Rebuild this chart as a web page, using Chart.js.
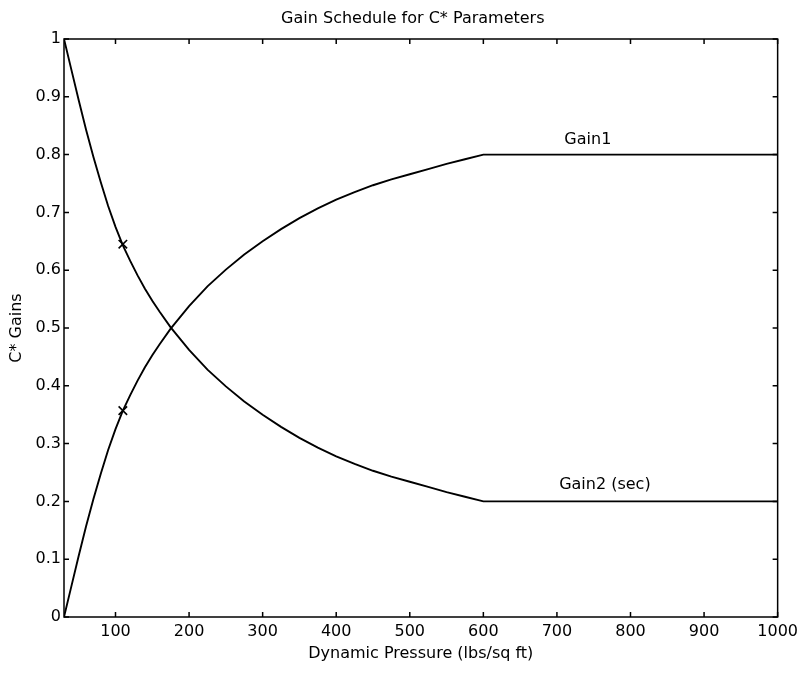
<!DOCTYPE html>
<html>
<head>
<meta charset="utf-8">
<script src="https://cdn.jsdelivr.net/npm/chart.js@4"></script>
<style>
  html, body { margin: 0; padding: 0; background: #fff; }
  #wrap { width: 803px; height: 673px; }
</style>
</head>
<body>
<div id="wrap"><canvas id="c" width="803" height="673"></canvas></div>
<script>
// ---- data ----
const pressure = [30, 40, 50, 60, 70, 80, 90, 100, 110, 120, 130, 140, 150, 160, 175, 200, 225, 250, 275, 300, 325, 350, 375, 400, 425, 450, 475, 500, 525, 550, 575, 600, 1000];
const gain1    = [0.000, 0.053, 0.106, 0.157, 0.204, 0.248, 0.289, 0.325, 0.357, 0.384, 0.409, 0.432, 0.453, 0.472, 0.499, 0.538, 0.572, 0.601, 0.627, 0.650, 0.671, 0.690, 0.707, 0.722, 0.735, 0.747, 0.757, 0.766, 0.775, 0.784, 0.792, 0.800, 0.800];
const gain2    = [1.000, 0.947, 0.894, 0.843, 0.796, 0.752, 0.711, 0.675, 0.643, 0.616, 0.591, 0.568, 0.547, 0.528, 0.501, 0.462, 0.428, 0.399, 0.373, 0.350, 0.329, 0.310, 0.293, 0.278, 0.265, 0.253, 0.243, 0.234, 0.225, 0.216, 0.208, 0.200, 0.200];
const markerX  = [110, 110];
const markerY  = [0.645, 0.357];
const xTicks   = [100, 200, 300, 400, 500, 600, 700, 800, 900, 1000];
const yTicks   = [0, 0.1, 0.2, 0.3, 0.4, 0.5, 0.6, 0.7, 0.8, 0.9, 1];
const chartTitle = 'Gain Schedule for C* Parameters';
const curveLabels = [
  { text: 'Gain1',       x: 742, y: 0.825, align: 'center' },
  { text: 'Gain2 (sec)', x: 703, y: 0.229, align: 'left' }
];

const FONT = "'DejaVu Sans', 'Liberation Sans', Arial, sans-serif";
Chart.defaults.color = '#000';
Chart.defaults.font.family = FONT;

const framePlugin = {
  id: 'frame',
  afterDatasetsDraw(chart) {
    const { ctx, chartArea: { left, right, top, bottom }, scales: { x, y } } = chart;
    ctx.save();
    ctx.strokeStyle = '#000';
    ctx.lineWidth = 1.5;
    ctx.strokeRect(left, top, right - left, bottom - top);
    ctx.beginPath();
    const tl = 5;
    x.ticks.forEach(t => {
      const px = x.getPixelForValue(t.value);
      ctx.moveTo(px, bottom); ctx.lineTo(px, bottom - tl);
      ctx.moveTo(px, top); ctx.lineTo(px, top + tl);
    });
    y.ticks.forEach(t => {
      const py = y.getPixelForValue(t.value);
      ctx.moveTo(left, py); ctx.lineTo(left + tl, py);
      ctx.moveTo(right, py); ctx.lineTo(right - tl, py);
    });
    ctx.stroke();
    ctx.fillStyle = '#000';
    ctx.font = '16px ' + FONT;
    ctx.textBaseline = 'middle';
    curveLabels.forEach(l => {
      ctx.textAlign = l.align;
      ctx.fillText(l.text, x.getPixelForValue(l.x), y.getPixelForValue(l.y));
    });
    // chart title, centred over the axes box
    ctx.textAlign = 'center';
    ctx.fillText(chartTitle, (left + right) / 2 - 8, top - 20);
    ctx.restore();
  }
};

const toXY = (xs, ys) => xs.map((v, i) => ({ x: v, y: ys[i] }));

new Chart(document.getElementById('c'), {
  type: 'line',
  data: {
    datasets: [
      { label: 'Gain1', data: toXY(pressure, gain1), borderColor: '#000', borderWidth: 1.9, pointRadius: 0, tension: 0, fill: false },
      { label: 'Gain2 (sec)', data: toXY(pressure, gain2), borderColor: '#000', borderWidth: 1.9, pointRadius: 0, tension: 0, fill: false },
      { label: 'marks', data: toXY(markerX, markerY), showLine: false, pointStyle: 'crossRot', pointRadius: 6, pointBorderWidth: 1.6, borderColor: '#000', backgroundColor: '#000' }
    ]
  },
  options: {
    responsive: false,
    animation: false,
    layout: { padding: { left: 0, right: 23, top: 39, bottom: 0 } },
    plugins: {
      legend: { display: false },
      tooltip: { enabled: false },
      title: { display: false }
    },
    scales: {
      x: {
        type: 'linear',
        min: 30, max: 1000,
        grid: { display: false, drawTicks: false, tickLength: 0 },
        border: { display: false },
        afterBuildTicks: s => { s.ticks = xTicks.map(v => ({ value: v })); },
        afterFit: s => { s.height = 56; },
        ticks: { padding: 5, font: { size: 16 }, color: '#000', maxRotation: 0, autoSkip: false, callback: v => String(v) },
        title: { display: true, text: 'Dynamic Pressure (lbs/sq ft)', color: '#000', font: { size: 16 }, padding: { top: 0, bottom: 9.4 } }
      },
      y: {
        type: 'linear',
        min: 0, max: 1,
        grid: { display: false, drawTicks: false, tickLength: 0 },
        border: { display: false },
        afterBuildTicks: s => { s.ticks = yTicks.map(v => ({ value: v })); },
        afterFit: s => { s.width = 64; },
        ticks: { padding: 3, font: { size: 16 }, color: '#000', autoSkip: false, callback: v => String(v) },
        title: { display: true, text: 'C* Gains', color: '#000', font: { size: 16 }, padding: { top: 7.4, bottom: 0 } }
      }
    }
  },
  plugins: [framePlugin]
});
</script>
</body>
</html>
